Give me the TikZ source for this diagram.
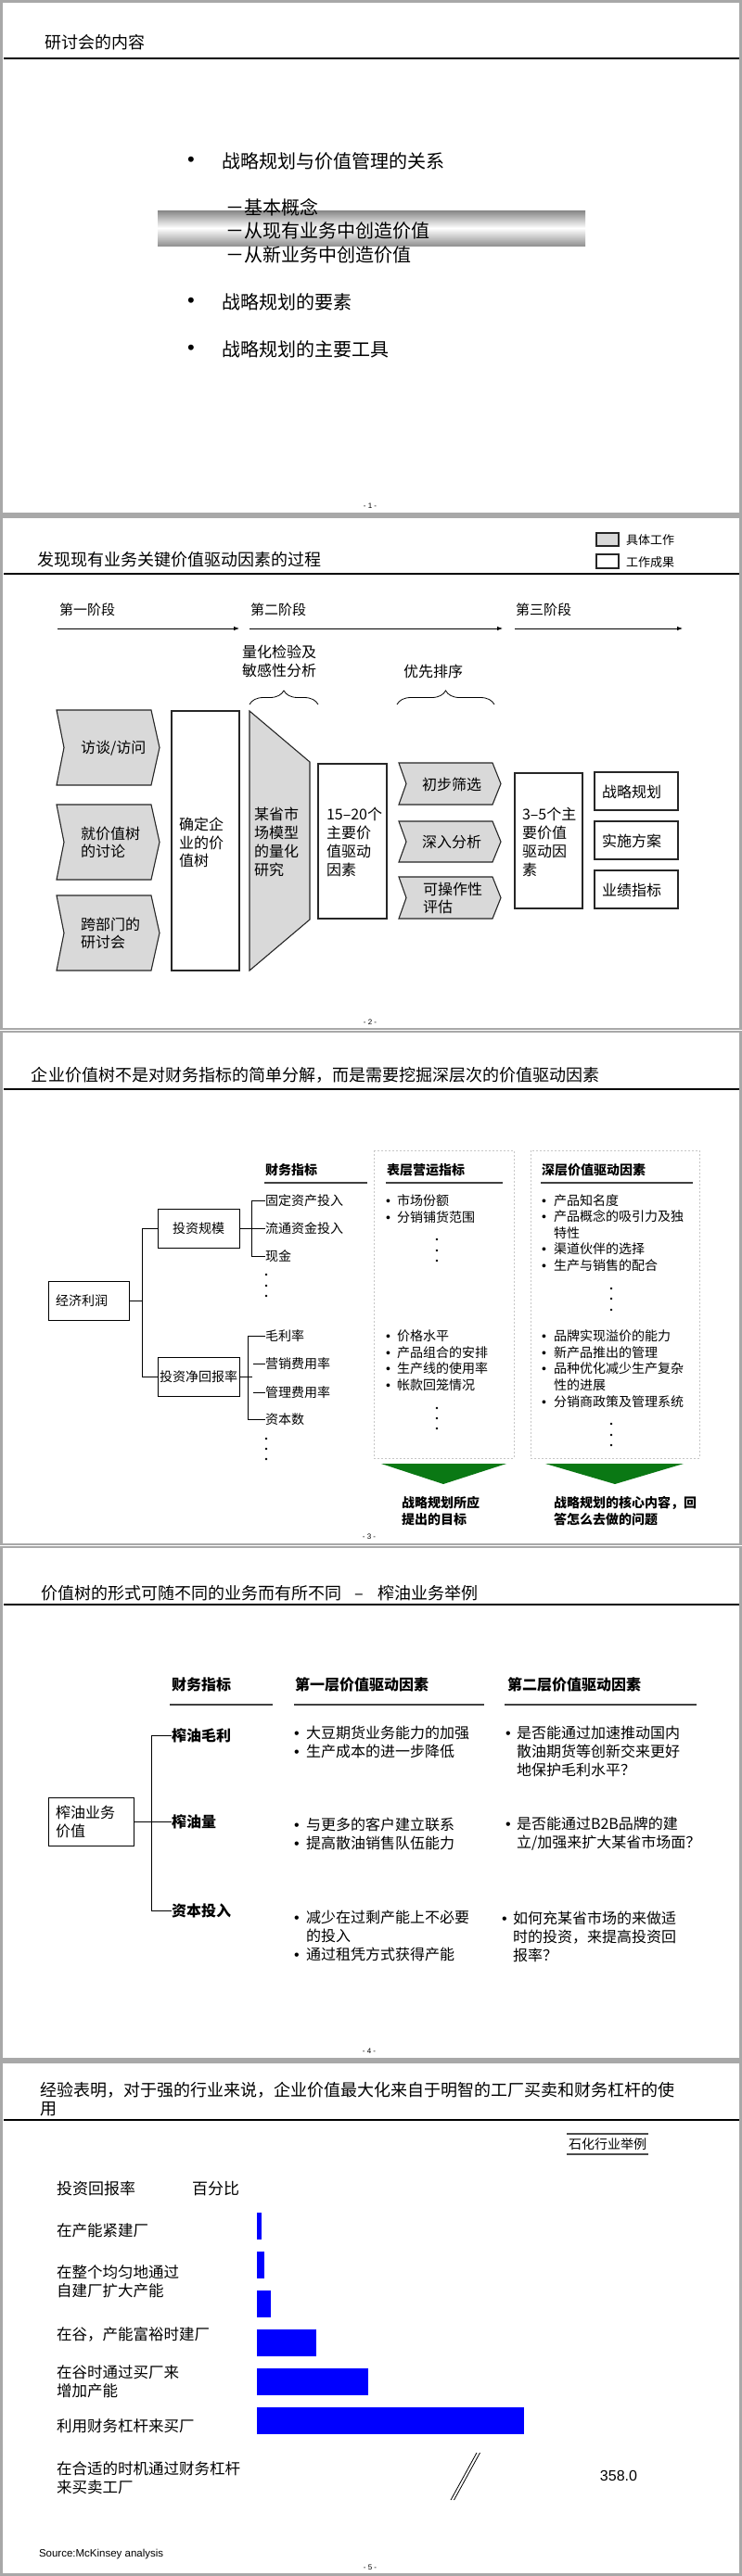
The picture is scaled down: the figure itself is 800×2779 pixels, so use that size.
\documentclass[tikz,border=0pt]{standalone}
\usepackage{fontspec}
\setmainfont{Noto Sans CJK SC}
\newfontfamily\latf{Liberation Sans}
\usetikzlibrary{decorations.pathreplacing,arrows.meta}
\newcommand\myfs[2]{\fontsize{#1}{#2}\selectfont}
\newcommand\bul[1]{\makebox[#1][l]{\latf•}}
\newcommand\mychev[5]{\draw[#5] (#1,#2) -- (#3,#2) -- ({#3+9},{(#2+#4)/2}) -- (#3,#4) -- (#1,#4) -- ({#1+8},{(#2+#4)/2}) -- cycle;}
\definecolor{frm}{gray}{0.66}
\definecolor{boxgray}{gray}{0.85}
\definecolor{grn}{RGB}{10,120,20}
\definecolor{barblue}{RGB}{0,0,255}
\begin{document}
\begin{tikzpicture}[x=1pt,y=-1pt,
  lbl/.style={inner sep=0pt, outer sep=0pt, anchor=west, align=left},
  ctr/.style={inner sep=0pt, outer sep=0pt, anchor=center, align=center},
  frame/.style={draw=frm, line width=2.5pt},
  rule/.style={draw=black, line width=1.2pt},
  pgno/.style={inner sep=0pt, font=\latf\myfs{8}{9}},
  work/.style={draw=black!85, fill=boxgray, line width=1.1pt},
  result/.style={draw=black!85, fill=white, line width=1.1pt},
  hrule/.style={draw=black!75, line width=1.3pt},
  conn/.style={draw=black, line width=0.9pt},
  tbox/.style={draw=black, line width=0.9pt, fill=white, inner sep=0pt, minimum height=42pt},
  arr/.style={draw=black, line width=0.8pt, -{Latex[length=6pt,width=4.5pt]}},
  brc/.style={draw=black, line width=0.8pt, decorate, decoration={brace, amplitude=15pt}},
  dbox/.style={draw=gray!45, line width=0.8pt, dash pattern=on 2pt off 2pt},
]
\useasboundingbox (0,0) rectangle (800,2779);
\fill[white] (0,0) rectangle (800,2779);
\foreach \k in {0,...,4}{
  \draw[frame] (1.5,{\k*555.8+1.5}) rectangle (798.5,{\k*555.8+554.3});
}

%% ================= Slide 1 =================
\node[lbl, font=\myfs{18}{22}] (s1title) at (48,46) {研讨会的内容};
\draw[rule] (4,63) -- (797,63);
\shade[top color=gray!95, bottom color=gray!85, middle color=white] (170,227) rectangle (631,265);
\node[ctr, font=\latf\myfs{22}{24}] (s1b1) at (206,174) {•};
\node[lbl, font=\myfs{20}{24}] (s1i1) at (239,174) {战略规划与价值管理的关系};
\node[lbl, font=\myfs{20}{24}] (s1i1a) at (243,224) {－基本概念};
\node[lbl, font=\myfs{20}{24}] (s1i1b) at (243,249) {－从现有业务中创造价值};
\node[lbl, font=\myfs{20}{24}] (s1i1c) at (243,275) {－从新业务中创造价值};
\node[ctr, font=\latf\myfs{22}{24}] (s1b2) at (206,326) {•};
\node[lbl, font=\myfs{20}{24}] (s1i2) at (239,326) {战略规划的要素};
\node[ctr, font=\latf\myfs{22}{24}] (s1b3) at (206,377) {•};
\node[lbl, font=\myfs{20}{24}] (s1i3) at (239,377) {战略规划的主要工具};
\node[pgno] (p1) at (399,546) {- 1 -};

%% ================= Slide 2 =================
\node[lbl, font=\myfs{18}{22}] (s2title) at (40,604) {发现现有业务关键价值驱动因素的过程};
\draw[rule] (4,619) -- (797,619);
\draw[work] (643,575) rectangle (667,589);
\node[lbl, font=\myfs{13}{15}] (lg1) at (675,583) {具体工作};
\draw[result] (643,598) rectangle (667,613);
\node[lbl, font=\myfs{13}{15}] (lg2) at (675,607) {工作成果};

\node[lbl, font=\myfs{15}{18}] (st1) at (64,658) {第一阶段};
\node[lbl, font=\myfs{15}{18}] (st2) at (270,658) {第二阶段};
\node[lbl, font=\myfs{15}{18}] (st3) at (556,658) {第三阶段};
\coordinate (a1s) at (62,678);  \coordinate (a1e) at (258,678);
\coordinate (a2s) at (269,678); \coordinate (a2e) at (542,678);
\coordinate (a3s) at (555,678); \coordinate (a3e) at (736,678);
\draw[arr] (a1s) -- (a1e);
\draw[arr] (a2s) -- (a2e);
\draw[arr] (a3s) -- (a3e);

\node[ctr, font=\myfs{16}{20}] (q1) at (301,713) {量化检验及\\敏感性分析};
\node[ctr, font=\myfs{16}{20}] (q2) at (467,724) {优先排序};
\coordinate (br1s) at (269,760); \coordinate (br1e) at (343,760);
\coordinate (br2s) at (428,760); \coordinate (br2e) at (533,760);
\draw[brc] (br1s) -- (br1e);
\draw[brc] (br2s) -- (br2e);

\mychev{61}{766}{163}{847}{work}
\mychev{61}{868}{163}{949}{work}
\mychev{61}{966}{163}{1047}{work}
\node[lbl, font=\myfs{16}{19.5}] (c1) at (87,807) {访谈/访问};
\node[lbl, font=\myfs{16}{19.5}] (c2) at (87,909) {就价值树\\的讨论};
\node[lbl, font=\myfs{16}{19.5}] (c3) at (87,1007) {跨部门的\\研讨会};

\draw[result] (185,767) rectangle (258,1047);
\node[lbl, font=\myfs{16}{19.5}] (vt) at (193,909) {确定企\\业的价\\值树};
\draw[work] (269,767) -- (334,822) -- (334,992) -- (269,1047) -- cycle;
\node[lbl, font=\myfs{16}{20}] (mm) at (274,908) {某省市\\场模型\\的量化\\研究};
\draw[result] (343,824) rectangle (417,991);
\node[lbl, font=\myfs{16}{20}] (k15) at (352,908) {15–20个\\主要价\\值驱动\\因素};

\mychev{430}{823}{531}{868}{work}
\mychev{430}{886}{531}{930}{work}
\mychev{430}{946}{531}{991}{work}
\node[ctr, font=\myfs{16}{19.5}] (r1) at (487,846) {初步筛选};
\node[ctr, font=\myfs{16}{19.5}] (r2) at (487,908) {深入分析};
\node[lbl, font=\myfs{16}{19.5}] (r3) at (456,969) {可操作性\\评估};

\draw[result] (555,834) rectangle (628,980);
\node[lbl, font=\myfs{16}{20}] (k35) at (563,908) {3–5个主\\要价值\\驱动因\\素};
\draw[result] (641,833) rectangle (731,874);
\draw[result] (641,886) rectangle (731,927);
\draw[result] (641,939) rectangle (731,980);
\node[lbl, font=\myfs{16}{19}] (o1) at (649,854) {战略规划};
\node[lbl, font=\myfs{16}{19}] (o2) at (649,907) {实施方案};
\node[lbl, font=\myfs{16}{19}] (o3) at (649,960) {业绩指标};
\node[pgno] (p2) at (399,1103) {- 2 -};

%% ================= Slide 3 =================
\node[lbl, font=\myfs{18}{22}] (s3title) at (34,1160) {企业价值树不是对财务指标的简单分解，而是需要挖掘深层次的价值驱动因素};
\draw[rule] (4,1175) -- (797,1175);
\draw[dbox] (403,1241) rectangle (554,1573);
\draw[dbox] (572,1241) rectangle (754,1573);
\node[lbl, font=\bfseries\myfs{14}{17}] (h31) at (286,1262) {财务指标};
\node[lbl, font=\bfseries\myfs{14}{17}] (h32) at (417,1262) {表层营运指标};
\node[lbl, font=\bfseries\myfs{14}{17}] (h33) at (584,1262) {深层价值驱动因素};
\draw[hrule] (285,1276) -- (396,1276);
\draw[hrule] (416,1276) -- (542,1276);
\draw[hrule] (583,1276) -- (747,1276);

\node[tbox, minimum width=87pt, text width=71pt, inner xsep=8pt, align=left, font=\myfs{14}{17}] (ep) at (95.5,1403) {经济利润};
\node[tbox, minimum width=88pt, align=center, font=\myfs{14}{17}] (inv) at (214,1325) {投资规模};
\node[tbox, minimum width=88pt, align=center, font=\myfs{14}{17}] (ret) at (214,1485) {投资净回报率};
\node[lbl, font=\myfs{14}{17}] (f1) at (286,1295) {固定资产投入};
\node[lbl, font=\myfs{14}{17}] (f2) at (286,1325) {流通资金投入};
\node[lbl, font=\myfs{14}{17}] (f3) at (286,1355) {现金};
\node[lbl, font=\myfs{14}{17}] (g1) at (286,1441) {毛利率};
\node[lbl, font=\myfs{14}{17}] (g2) at (286,1471) {营销费用率};
\node[lbl, font=\myfs{14}{17}] (g3) at (286,1502) {管理费用率};
\node[lbl, font=\myfs{14}{17}] (g4) at (286,1531) {资本数};
\draw[conn] (ep.east) -| ([xshift=-16pt]inv.west) -- (inv.west);
\draw[conn] (ep.east) -| ([xshift=-16pt]ret.west) -- (ret.west);
\draw[conn] (inv.east) -- (f2.west);
\draw[conn] (f1.west) -- ++(-15,0) |- (f3.west);
\draw[conn] (ret.east) -- ++(14,0);
\draw[conn] (g1.west) -- ++(-19,0) |- (g4.west);
\draw[conn] ([xshift=-13pt]g2.west) -- (g2.west);
\draw[conn] ([xshift=-13pt]g3.west) -- (g3.west);
\foreach \yy in {1375,1387,1398,1552,1563,1574} \fill (287,\yy) circle (1.4);

\node[lbl, font=\myfs{14}{18}] (d1) at (416,1304) {\bul{12pt}市场份额\\\bul{12pt}分销铺货范围};
\node[lbl, font=\myfs{14}{17.6}] (d2) at (416,1467.5) {\bul{12pt}价格水平\\\bul{12pt}产品组合的安排\\\bul{12pt}生产线的使用率\\\bul{12pt}帐款回笼情况};
\node[lbl, font=\myfs{14}{17.5}] (d3) at (584,1330) {\bul{13pt}产品知名度\\\bul{13pt}产品概念的吸引力及独\\\hspace*{13pt}特性\\\bul{13pt}渠道伙伴的选择\\\bul{13pt}生产与销售的配合};
\node[lbl, font=\myfs{14}{17.75}] (d4) at (584,1476.5) {\bul{13pt}品牌实现溢价的能力\\\bul{13pt}新产品推出的管理\\\bul{13pt}品种优化减少生产复杂\\\hspace*{13pt}性的进展\\\bul{13pt}分销商政策及管理系统};
\foreach \yy in {1337,1349,1360,1519,1530,1541} \fill (471,\yy) circle (1.4);
\foreach \yy in {1390,1401,1413,1536,1548,1559} \fill (659,\yy) circle (1.4);

\fill[grn] (411,1579) -- (546,1579) -- (478,1601) -- cycle;
\fill[grn] (588,1579) -- (737,1579) -- (663,1601) -- cycle;
\node[lbl, font=\bfseries\myfs{14}{18}] (cap1) at (433,1630) {战略规划所应\\提出的目标};
\node[lbl, font=\bfseries\myfs{14}{18}] (cap2) at (597,1630) {战略规划的核心内容，回\\答怎么去做的问题};
\node[pgno] (p3) at (398,1658) {- 3 -};

%% ================= Slide 4 =================
\node[lbl, font=\myfs{18}{22}] (s4title) at (44,1719) {价值树的形式可随不同的业务而有所不同\hspace{15pt}–\hspace{15pt}榨油业务举例};
\draw[rule] (4,1731) -- (797,1731);
\node[lbl, font=\bfseries\myfs{16}{19}] (h41) at (185,1817) {财务指标};
\node[lbl, font=\bfseries\myfs{16}{19}] (h42) at (318,1817) {第一层价值驱动因素};
\node[lbl, font=\bfseries\myfs{16}{19}] (h43) at (547,1817) {第二层价值驱动因素};
\draw[hrule] (183,1839) -- (294,1839);
\draw[hrule] (317,1839) -- (522,1839);
\draw[hrule] (544,1839) -- (751,1839);

\node[tbox, minimum width=92pt, minimum height=52pt, text width=76pt, inner xsep=8pt, align=left, font=\myfs{16}{20}] (root) at (98,1965) {榨油业务\\价值};
\node[lbl, font=\bfseries\myfs{16}{19}] (m1) at (185,1872) {榨油毛利};
\node[lbl, font=\bfseries\myfs{16}{19}] (m2) at (185,1965) {榨油量};
\node[lbl, font=\bfseries\myfs{16}{19}] (m3) at (185,2061) {资本投入};
\draw[conn] (root.east) -- (m2.west);
\draw[conn] (m1.west) -- ++(-22,0) |- (m3.west);

\node[lbl, font=\myfs{16}{20}] (e1) at (317,1879) {\bul{13pt}大豆期货业务能力的加强\\\bul{13pt}生产成本的进一步降低};
\node[lbl, font=\myfs{16}{20}] (e2) at (317,1978) {\bul{13pt}与更多的客户建立联系\\\bul{13pt}提高散油销售队伍能力};
\node[lbl, font=\myfs{16}{20}] (e3) at (317,2088) {\bul{13pt}减少在过剩产能上不必要\\\hspace*{13pt}的投入\\\bul{13pt}通过租凭方式获得产能};
\node[lbl, font=\myfs{16}{20}] (n1) at (545,1889) {\bul{12pt}是否能通过加速推动国内\\\hspace*{12pt}散油期货等创新交来更好\\\hspace*{12pt}地保护毛利水平？};
\node[lbl, font=\myfs{16}{20}] (n2) at (545,1978) {\bul{12pt}是否能通过B2B品牌的建\\\hspace*{12pt}立/加强来扩大某省市场面？};
\node[lbl, font=\myfs{16}{20}] (n3) at (541,2089) {\bul{12pt}如何充某省市场的来做适\\\hspace*{12pt}时的投资，来提高投资回\\\hspace*{12pt}报率？};
\node[pgno] (p4) at (398,2213) {- 4 -};

%% ================= Slide 5 =================
\node[lbl, font=\myfs{18}{20}] (s5title) at (43,2265) {经验表明，对于强的行业来说，企业价值最大化来自于明智的工厂买卖和财务杠杆的使\\用};
\draw[rule] (4,2287) -- (797,2287);
\node[ctr, minimum width=88pt, minimum height=22pt, font=\myfs{14}{16}] (ex) at (655,2313) {石化行业举例};
\draw[draw=black!70, line width=1.6pt] (ex.north west) -- (ex.north east);
\draw[draw=black!70, line width=1.6pt] (ex.south west) -- (ex.south east);

\node[lbl, font=\myfs{17}{20}] (roi) at (61,2361) {投资回报率};
\node[lbl, font=\myfs{17}{20}] (pct) at (207,2361) {百分比};
\node[lbl, font=\myfs{16.5}{20}] (L1) at (61,2406) {在产能紧建厂};
\node[lbl, font=\myfs{16.5}{20}] (L2) at (61,2461) {在整个均匀地通过\\自建厂扩大产能};
\node[lbl, font=\myfs{16.5}{20}] (L3) at (61,2518) {在谷，产能富裕时建厂};
\node[lbl, font=\myfs{16.5}{20}] (L4) at (61,2569.5) {在谷时通过买厂来\\增加产能};
\node[lbl, font=\myfs{16.5}{20}] (L5) at (61,2617) {利用财务杠杆来买厂};
\node[lbl, font=\myfs{16.5}{20}] (L6) at (61,2673) {在合适的时机通过财务杠杆\\来买卖工厂};
\fill[barblue] (276.5,2387) rectangle (282,2416);
\fill[barblue] (276.5,2429) rectangle (285,2458);
\fill[barblue] (276.5,2471) rectangle (292,2500);
\fill[barblue] (276.5,2513) rectangle (341,2542);
\fill[barblue] (276.5,2555) rectangle (397,2584);
\fill[barblue] (276.5,2597) rectangle (565,2626);
\draw[line width=0.8pt] (514,2646) -- (486,2697);
\draw[line width=0.8pt] (517.5,2646) -- (489.5,2697);
\node[ctr, font=\latf\myfs{16}{18}] (v358) at (667,2671) {358.0};
\node[lbl, font=\latf\myfs{11.5}{13}] (src) at (42,2755) {Source:McKinsey analysis};
\node[pgno] (p5) at (399,2770) {- 5 -};
\end{tikzpicture}
\end{document}
